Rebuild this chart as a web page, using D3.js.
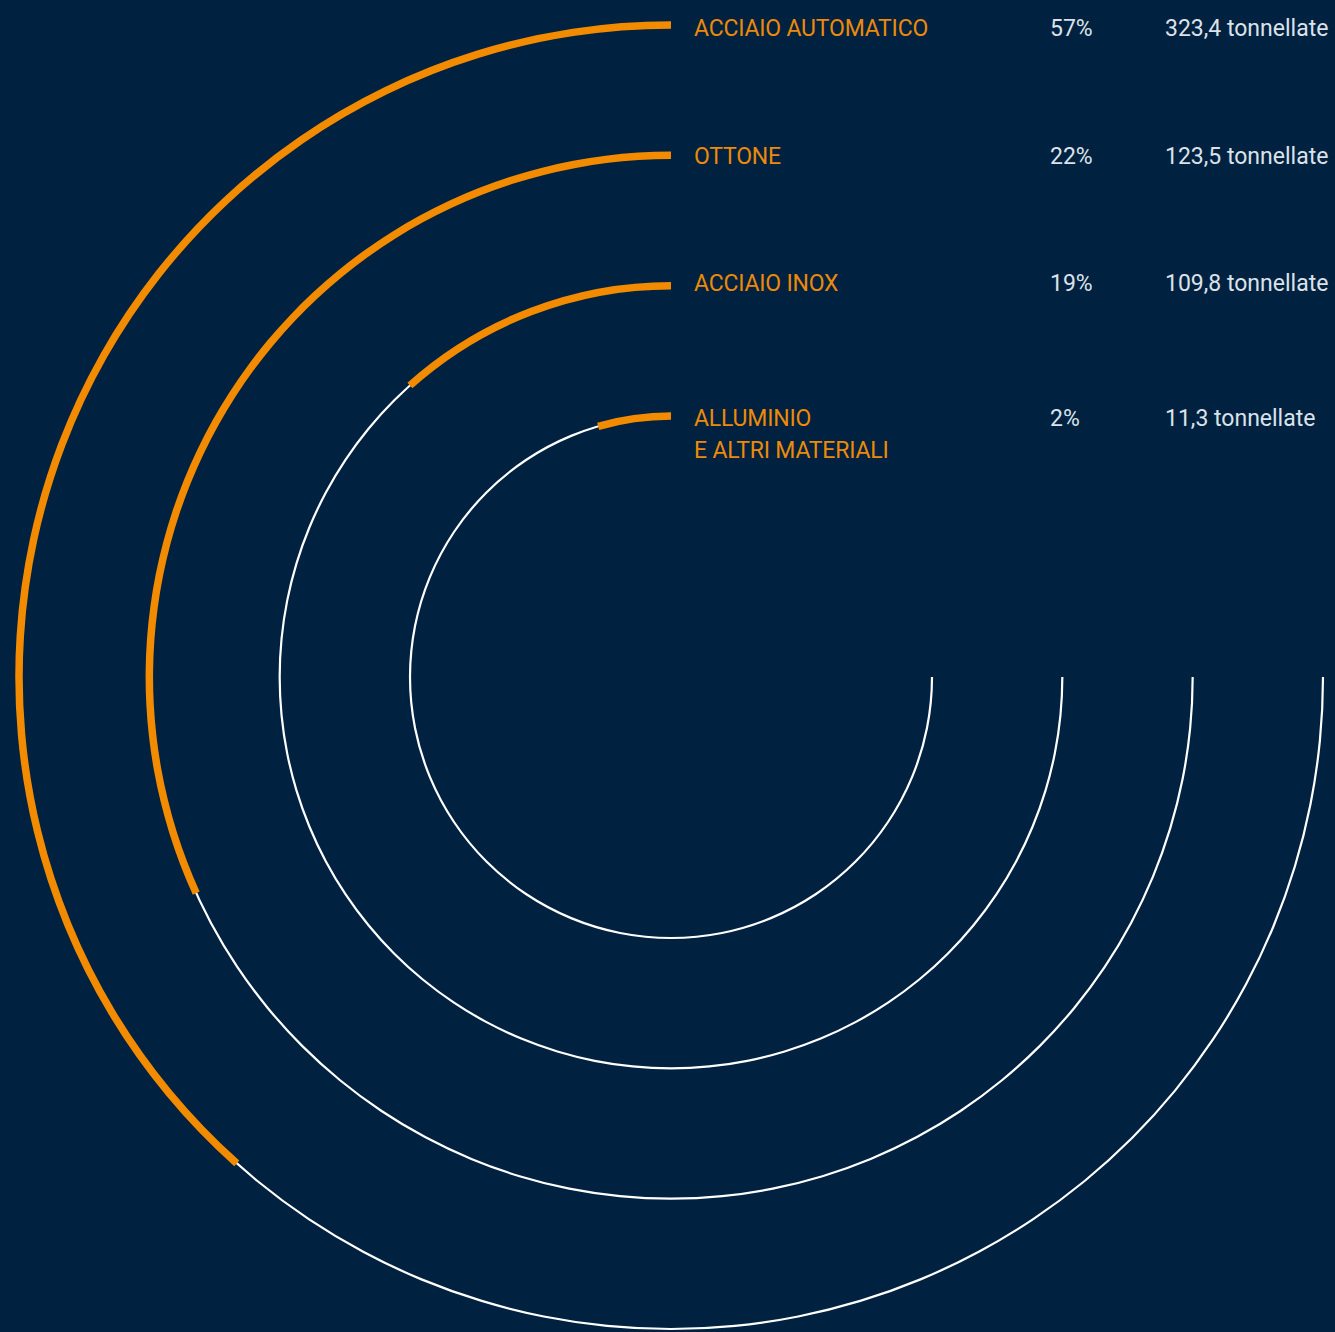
<!DOCTYPE html>
<html>
<head>
<meta charset="utf-8">
<style>
  html, body { margin: 0; padding: 0; background: #00213f; }
  svg { display: block; }
  .label { fill: #ec8a0a; font: 23px Roboto, sans-serif; letter-spacing: -0.2px; }
  .pct, .ton { fill: #dce2ea; font: 23px Roboto, sans-serif; }
</style>
</head>
<body>
<svg id="chart" width="1335" height="1332"></svg>
<script src="https://cdn.jsdelivr.net/npm/d3@7"></script>
<script>
// materials, outer ring first
var categories = [["ACCIAIO AUTOMATICO"], ["OTTONE"], ["ACCIAIO INOX"], ["ALLUMINIO", "E ALTRI MATERIALI"]];
var percentLabels = ["57%", "22%", "19%", "2%"];
var tonLabels = ["323,4 tonnellate", "123,5 tonnellate", "109,8 tonnellate", "11,3 tonnellate"];
// share of the 270 degree track filled in orange
var arcShare = [0.512, 0.424, 0.155, 0.060];

var svg = d3.select("#chart"),
    cx = 671, cy = 677;

// baseline offset of each text row below its ring top
var rowNudge = [11, 9, 5, 10];

var g = svg.append("g").attr("transform", "translate(" + cx + "," + cy + ")");

// ring index -> radius
var radius = d3.scaleLinear().domain([0, 3]).range([652, 261]);
// share of track -> angle (counter clockwise from 12 o'clock)
var angle = d3.scaleLinear().domain([0, 1]).range([0, -1.5 * Math.PI]);

function band(w) {
  return d3.arc()
    .innerRadius(function(d, i) { return radius(i) - w / 2; })
    .outerRadius(function(d, i) { return radius(i) + w / 2; })
    .startAngle(0);
}

var track = band(2.2).endAngle(angle(1));
var bar = band(7.5).endAngle(function(d) { return angle(d); });

g.selectAll(".track")
  .data(arcShare)
  .enter().append("path")
    .attr("class", "track")
    .attr("fill", "#ffffff")
    .attr("d", track);

g.selectAll(".bar")
  .data(arcShare)
  .enter().append("path")
    .attr("class", "bar")
    .attr("fill", "#f28b00")
    .attr("d", bar);

// labels
var rows = svg.selectAll(".row")
  .data(categories)
  .enter().append("g")
    .attr("class", "row")
    .attr("transform", function(d, i) { return "translate(0," + (cy - radius(i) + rowNudge[i]) + ")"; });

rows.append("text")
  .attr("class", "label")
  .attr("x", 694)
  .selectAll("tspan")
  .data(function(d) { return d; })
  .enter().append("tspan")
    .attr("x", 694)
    .attr("dy", function(d, i) { return i ? 32 : 0; })
    .text(function(d) { return d; });

rows.append("text")
  .attr("class", "pct")
  .attr("x", 1050)
  .text(function(d, i) { return percentLabels[i]; });

rows.append("text")
  .attr("class", "ton")
  .attr("x", 1165)
  .text(function(d, i) { return tonLabels[i]; });
</script>
</body>
</html>
